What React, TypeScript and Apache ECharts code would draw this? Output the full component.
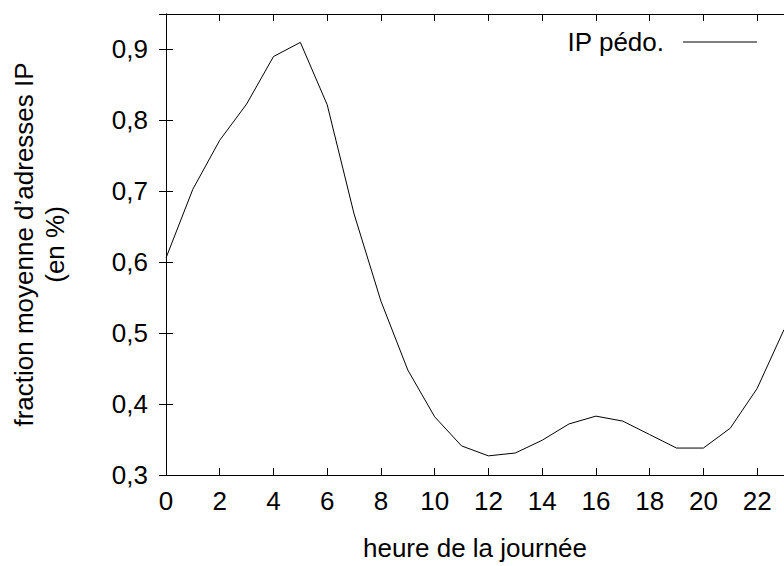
import React, { useEffect, useRef } from "react";
import * as echarts from "echarts";

const hours = [0, 1, 2, 3, 4, 5, 6, 7, 8, 9, 10, 11, 12, 13, 14, 15, 16, 17, 18, 19, 20, 21, 22, 23];
const fractions = [
  0.606, 0.703, 0.772, 0.823, 0.89, 0.91, 0.822, 0.668, 0.545, 0.448, 0.382, 0.341,
  0.327, 0.331, 0.349, 0.372, 0.383, 0.376, 0.357, 0.338, 0.338, 0.366, 0.422, 0.505,
];
const seriesName = "IP pédo.";
const xTitle = "heure de la journée";
const yTitle = "fraction moyenne d’adresses IP\n(en %)";

const FONT = "Liberation Sans, Arial, Helvetica, sans-serif";
const FS = 26;

export default function App() {
  const ref = useRef<HTMLDivElement>(null);
  useEffect(() => {
    document.body.style.margin = "0";
    if (!ref.current) return;
    const chart = echarts.init(ref.current, undefined, { renderer: "svg" });
    const axisLine = { show: true, lineStyle: { color: "#000", width: 1 } };
    const tick = { show: true, inside: true, length: 7, lineStyle: { color: "#000", width: 1 } };
    chart.setOption({
      animation: false,
      backgroundColor: "#fff",
      textStyle: { fontFamily: FONT },
      grid: { left: 166, top: 14, width: 625, height: 465, containLabel: false },
      legend: {
        data: [{ name: seriesName, icon: "rect" }],
        right: 27,
        top: 29,
        padding: 0,
        align: "right",
        itemWidth: 74,
        itemHeight: 1,
        itemStyle: { color: "#000" },
        textStyle: { fontSize: FS, color: "#000", fontFamily: FONT, padding: [0, 14, 0, 0] },
      },
      xAxis: [
        {
          type: "value",
          position: "bottom",
          min: 0,
          max: 23,
          interval: 2,
          axisLine,
          axisTick: tick,
          splitLine: { show: false },
          axisLabel: { color: "#000", fontSize: FS, fontFamily: FONT, margin: 13, showMaxLabel: false },
          name: xTitle,
          nameLocation: "middle",
          nameGap: 60,
          nameTextStyle: { color: "#000", fontSize: FS, fontFamily: FONT },
        },
        {
          type: "value",
          position: "top",
          min: 0,
          max: 23,
          interval: 2,
          axisLine,
          axisTick: tick,
          splitLine: { show: false },
          axisLabel: { show: false },
        },
      ],
      yAxis: [
        {
          type: "value",
          position: "left",
          min: 0.3,
          max: 0.95,
          interval: 0.1,
          axisLine,
          axisTick: tick,
          splitLine: { show: false },
          axisLabel: {
            color: "#000",
            fontSize: FS,
            fontFamily: FONT,
            margin: 18,
            showMaxLabel: false,
            formatter: (v: number) => v.toFixed(1).replace(".", ","),
          },
          name: yTitle,
          nameLocation: "middle",
          nameGap: 96,
          nameTextStyle: { color: "#000", fontSize: FS, fontFamily: FONT, lineHeight: 31 },
        },
        {
          type: "value",
          position: "right",
          min: 0.3,
          max: 0.95,
          interval: 0.1,
          axisLine,
          axisTick: tick,
          splitLine: { show: false },
          axisLabel: { show: false },
        },
      ],
      series: [
        {
          name: seriesName,
          type: "line",
          xAxisIndex: 0,
          yAxisIndex: 0,
          data: hours.map((h, i) => [h, fractions[i]]),
          symbol: "none",
          showSymbol: false,
          lineStyle: { color: "#000", width: 1 },
          itemStyle: { color: "#000" },
        },
      ],
    });
    return () => chart.dispose();
  }, []);
  return <div ref={ref} style={{ width: 784, height: 566, position: "absolute", left: 0, top: 0 }} />;
}
